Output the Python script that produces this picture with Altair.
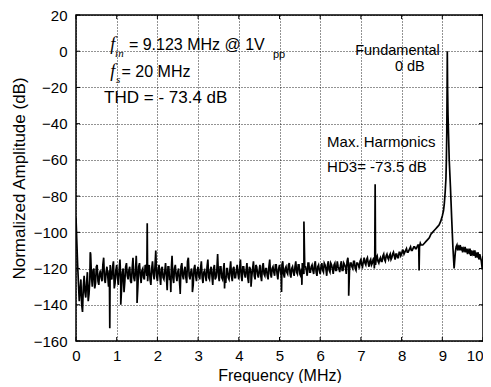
import altair as alt
import pandas as pd

# ---- noise floor A: 0.00 .. 8.48 MHz, step 0.04 MHz ----
noise_a_mhz0 = [-92, -118, -138, -126, -144, -124, -136, -122, -134, -112, -130, -120, -128, -118, -129, -121, -127, -114, -128, -119, -130, -118, -126, -116, -128]
noise_a_mhz1 = [-118, -129, -115, -131, -120, -127, -117, -126, -119, -128, -114, -127, -113, -130, -117, -128, -120, -126, -119, -127, -118, -129, -116, -126, -110]
noise_a_mhz2 = [-127, -118, -129, -119, -126, -117, -132, -119, -126, -113, -128, -118, -127, -120, -133, -117, -126, -119, -128, -114, -126, -120, -129, -118, -127]
noise_a_mhz3 = [-119, -126, -116, -128, -121, -127, -115, -126, -119, -129, -118, -125, -112, -127, -119, -126, -117, -128, -120, -126, -116, -127, -119, -125, -118]
noise_a_mhz4 = [-126, -115, -127, -119, -125, -117, -128, -120, -124, -116, -126, -119, -125, -118, -127, -117, -124, -120, -126, -115, -125, -119, -124, -118, -126]
noise_a_mhz5 = [-118, -124, -116, -125, -119, -123, -117, -125, -119, -124, -116, -123, -118, -124, -117, -123, -119, -124, -117, -122, -118, -123, -116, -124, -118]
noise_a_mhz6 = [-123, -117, -122, -118, -124, -116, -122, -118, -123, -117, -121, -119, -122, -116, -121, -118, -123, -114, -121, -117, -120, -116, -121, -117, -120]
noise_a_mhz7 = [-115, -119, -114, -118, -114, -119, -115, -117, -114, -118, -113, -117, -114, -116, -112, -116, -112, -115, -112, -114, -111, -115, -112, -114, -111]
noise_a_mhz8 = [-112, -110, -111, -109, -111, -109, -110, -109, -108, -109, -107, -108, -107]

# ---- noise floor B: 0.02 .. 8.46 MHz, step 0.04 MHz ----
noise_b_mhz0 = [-105, -128, -132, -140, -130, -133, -128, -138, -126, -124, -121, -131, -119, -127, -123, -125, -118, -126, -122, -124, -121, -125, -119, -131, -121]
noise_b_mhz1 = [-125, -121, -126, -122, -133, -119, -124, -121, -127, -120, -125, -122, -126, -119, -124, -121, -125, -118, -124, -121, -126, -120, -123, -119, -124]
noise_b_mhz2 = [-121, -124, -120, -125, -122, -124, -119, -126, -121, -125, -120, -124, -122, -126, -119, -124, -121, -125, -116, -124, -122, -125, -120, -124, -121]
noise_b_mhz3 = [-124, -120, -125, -122, -124, -119, -125, -121, -124, -120, -126, -121, -124, -119, -125, -121, -124, -120, -125, -121, -124, -120, -125, -121, -123]
noise_b_mhz4 = [-120, -124, -119, -123, -121, -125, -119, -123, -120, -124, -118, -123, -121, -124, -119, -123, -120, -124, -119, -123, -120, -122, -118, -123, -120]
noise_b_mhz5 = [-121, -118, -123, -120, -122, -118, -123, -120, -122, -119, -122, -118, -123, -120, -122, -119, -121, -117, -122, -119, -121, -118, -122, -119, -121]
noise_b_mhz6 = [-119, -121, -117, -120, -118, -121, -117, -120, -118, -121, -116, -120, -118, -121, -117, -119, -116, -120, -117, -119, -116, -120, -117, -118, -116]
noise_b_mhz7 = [-118, -116, -117, -115, -117, -116, -118, -115, -116, -114, -116, -115, -116, -113, -115, -113, -114, -113, -115, -112, -113, -112, -114, -111, -113]
noise_b_mhz8 = [-110, -112, -110, -111, -110, -108, -110, -108, -109, -108, -107, -106]
noise_step = 0.04

# ---- fundamental region ----
peak_freq = [8.52, 8.56, 8.60, 8.64, 8.68, 8.72, 8.76, 8.80, 8.84, 8.88, 8.92, 8.96, 9.00, 9.03, 9.05, 9.07, 9.09, 9.10, 9.11, 9.118, 9.123, 9.13, 9.14, 9.17, 9.20, 9.23, 9.26, 9.29, 9.32]
peak_val = [-107, -106, -105, -104, -103, -101, -100, -99, -98, -97, -96, -94, -91, -88, -84, -78, -70, -60, -45, -20, 0, -20, -35, -60, -75, -92, -108, -120, -111]

# ---- tail above the fundamental ----
tail_freq = [9.34, 9.36, 9.38, 9.40, 9.42, 9.44, 9.46, 9.48, 9.50, 9.52, 9.54, 9.56, 9.58, 9.60, 9.62, 9.64, 9.66, 9.68, 9.70, 9.72, 9.74, 9.76, 9.78, 9.80, 9.82, 9.84, 9.86, 9.88, 9.90, 9.92, 9.94, 9.96, 9.98, 10.0]
tail_val = [-108, -107, -110, -108, -109, -107, -110, -108, -111, -109, -110, -108, -111, -109, -112, -110, -111, -109, -113, -110, -112, -111, -113, -110, -114, -112, -113, -111, -115, -112, -114, -116, -120, -113]

# ---- spurs ----
spur_freq = [0.35, 0.83, 1.10, 1.50, 1.75, 2.33, 2.56, 2.86, 3.65, 4.30, 5.05, 5.55, 5.60, 6.70, 7.33, 7.35, 8.43]
spur_val = [-111, -153, -140, -139, -95, -133, -134, -133, -131, -130, -133, -129, -94, -135, -120, -73.5, -121]

# ---- axes ----
x_ticks = [0, 1, 2, 3, 4, 5, 6, 7, 8, 9, 10]
y_ticks = [20, 0, -20, -40, -60, -80, -100, -120, -140, -160]

# ---- annotations ----
ann_text = ["f", "in", "= 9.123 MHz @ 1V", "pp", "f", "s", "= 20 MHz", "THD = - 73.4 dB",
            "Fundamental", "0 dB", "Max. Harmonics", "HD3= -73.5 dB"]
ann_x = [0.84, 0.96, 1.30, 4.84, 0.84, 0.98, 1.12, 0.69, 6.86, 8.57, 6.17, 6.17]
ann_y = [3.4, -1.5, 3.4, -2.0, -11.5, -16.0, -11.5, -25.8, 0.3, -8.6, -50, -64]
ann_size = [18, 11, 16, 11, 18, 11, 16, 17, 14.5, 14.5, 15, 15]
ann_font = ["Liberation Serif", "Liberation Serif", "Liberation Sans", "Liberation Sans",
            "Liberation Serif", "Liberation Serif", "Liberation Sans", "Liberation Sans",
            "Liberation Sans", "Liberation Sans", "Liberation Sans", "Liberation Sans"]
ann_style = ["italic", "italic", "normal", "normal", "italic", "italic", "normal", "normal",
             "normal", "normal", "normal", "normal"]
ann_align = ["left", "left", "left", "left", "left", "left", "left", "left",
             "left", "right", "left", "left"]

noise_a = noise_a_mhz0 + noise_a_mhz1 + noise_a_mhz2 + noise_a_mhz3 + noise_a_mhz4 + noise_a_mhz5 + noise_a_mhz6 + noise_a_mhz7 + noise_a_mhz8
noise_b = noise_b_mhz0 + noise_b_mhz1 + noise_b_mhz2 + noise_b_mhz3 + noise_b_mhz4 + noise_b_mhz5 + noise_b_mhz6 + noise_b_mhz7 + noise_b_mhz8
freq_a = [round(i * noise_step, 3) for i in range(len(noise_a))]
freq_b = [round(0.02 + i * noise_step, 3) for i in range(len(noise_b))]

freq = freq_a + freq_b + peak_freq + tail_freq + spur_freq
amp = noise_a + noise_b + peak_val + tail_val + spur_val
df = pd.DataFrame({"f": freq, "a": amp}).sort_values("f", kind="stable").reset_index(drop=True)
df["o"] = range(len(df))

ann = pd.DataFrame({"t": ann_text, "x": ann_x, "y": ann_y, "s": ann_size,
                    "fo": ann_font, "st": ann_style, "al": ann_align})

FONT = "Liberation Sans"
W, H = 407, 326

xs = alt.Scale(domain=[0, 10], nice=False, zero=False)
ys = alt.Scale(domain=[-160, 20], nice=False, zero=False)

axis_common = dict(grid=True, gridDash=[1, 2], gridColor="black", gridOpacity=0.85,
                   ticks=False, domain=False, labelFontSize=15, labelFont=FONT,
                   labelColor="black", titleFont=FONT, titleColor="black",
                   titleFontWeight="normal", labelFlush=False, labelOverlap=False)
x_axis = alt.Axis(values=x_ticks, labelPadding=7, titleFontSize=16, titlePadding=4,
                  labelAlign={"condition": {"test": "datum.value == 10", "value": "right"},
                              "value": "center"},
                  **axis_common)
y_axis = alt.Axis(values=y_ticks, labelPadding=9, titleFontSize=17, titlePadding=5,
                  **axis_common)
X_T = "Frequency (MHz)"
Y_T = "Normalized Amplitude (dB)"

line = alt.Chart(df).mark_line(color="black", strokeWidth=1.7, clip=True).encode(
    x=alt.X("f:Q", scale=xs, title=X_T, axis=x_axis),
    y=alt.Y("a:Q", scale=ys, title=Y_T, axis=y_axis),
    order="o:Q",
)

tick_df_x = pd.DataFrame({"t": x_ticks})
tick_df_y = pd.DataFrame({"t": y_ticks})
tb = alt.Chart(tick_df_x).mark_rule(color="black", strokeWidth=1).encode(
    x=alt.X("t:Q", scale=xs, title=X_T, axis=x_axis), y=alt.value(H), y2=alt.value(H - 4))
tt = alt.Chart(tick_df_x).mark_rule(color="black", strokeWidth=1).encode(
    x=alt.X("t:Q", scale=xs, title=X_T, axis=x_axis), y=alt.value(0), y2=alt.value(4))
tl = alt.Chart(tick_df_y).mark_rule(color="black", strokeWidth=1).encode(
    y=alt.Y("t:Q", scale=ys, title=Y_T, axis=y_axis), x=alt.value(0), x2=alt.value(4))
tr = alt.Chart(tick_df_y).mark_rule(color="black", strokeWidth=1).encode(
    y=alt.Y("t:Q", scale=ys, title=Y_T, axis=y_axis), x=alt.value(W), x2=alt.value(W - 4))

layers = [line, tb, tt, tl, tr]
for key, sub in ann.groupby(["s", "fo", "st", "al"]):
    size, fo, st, al = key
    layers.append(
        alt.Chart(sub).mark_text(align=al, baseline="middle", font=fo,
                                 fontSize=float(size), fontStyle=st, color="black").encode(
            x=alt.X("x:Q", scale=xs, title=X_T, axis=x_axis),
            y=alt.Y("y:Q", scale=ys, title=Y_T, axis=y_axis),
            text="t:N")
    )

chart = alt.layer(*layers).properties(
    width=W, height=H, background="white",
    autosize=alt.AutoSizeParams(type="none"),
    padding={"left": 68, "top": 7, "right": 0, "bottom": 42},
).configure_view(stroke="black", strokeWidth=1.5)

chart.save("out.html", embed_options={"renderer": "svg", "actions": False})
